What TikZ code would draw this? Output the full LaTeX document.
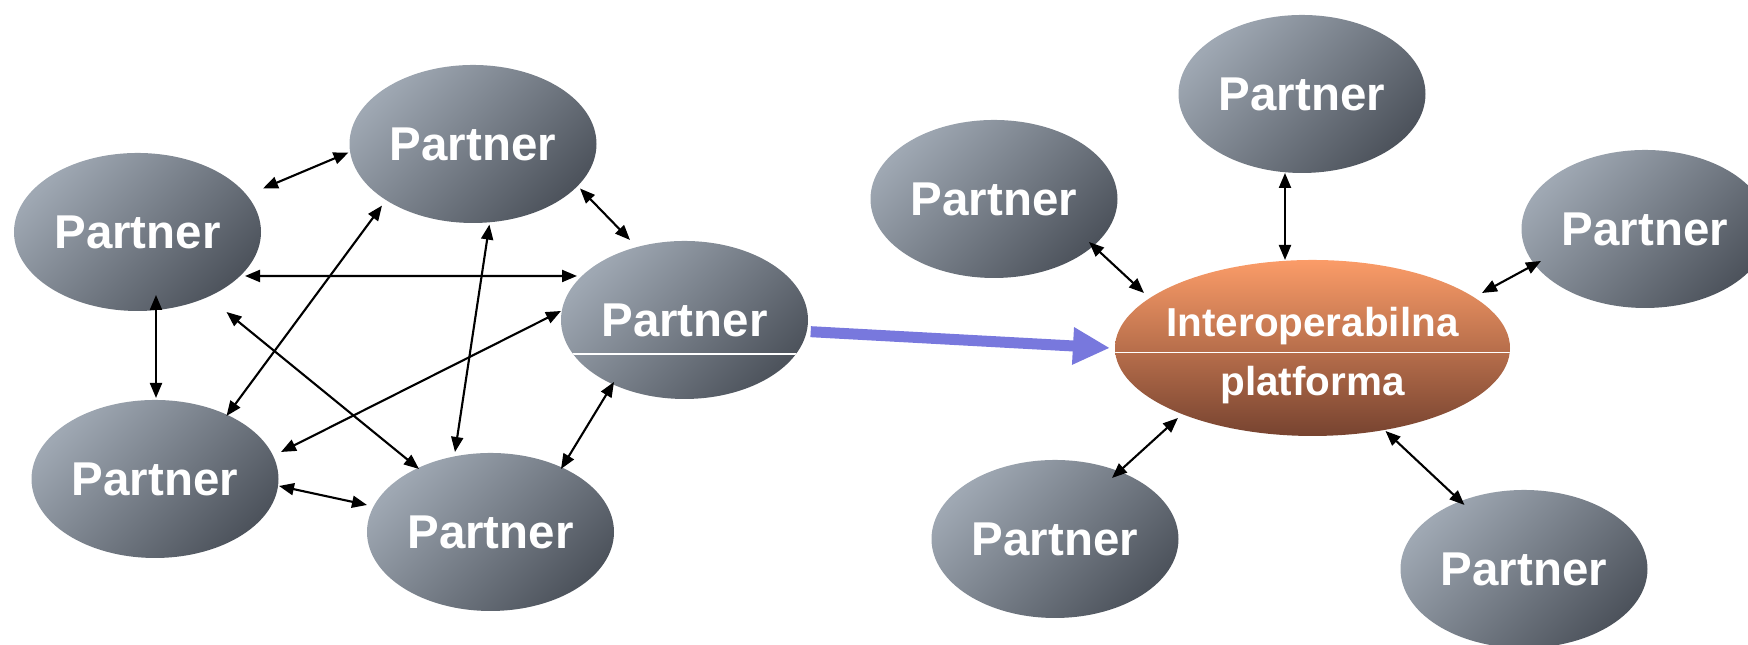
\documentclass[tikz,border=0pt]{standalone}
\usepackage{fontspec}
\setmainfont{Liberation Sans}
\usepackage{tikz}
\usetikzlibrary{shapes.geometric,arrows.meta,positioning}

\definecolor{partnerlight}{HTML}{9FA8B3}
\definecolor{partnerdark}{HTML}{4D535C}
\definecolor{platformtop}{HTML}{FB9C68}
\definecolor{platformbottom}{HTML}{774330}
\definecolor{flowblue}{HTML}{7878DD}

\tikzset{divider/.style={path picture={\draw[-,white,line width=0.5pt]
  ([yshift=#1]path picture bounding box.west) -- ([yshift=#1]path picture bounding box.east);}}}

\begin{document}
\begin{tikzpicture}[<->,>={Triangle[length=0.15cm,width=0.12cm]},semithick]

   \tikzstyle{partner}=[ellipse,draw=none,top color=partnerlight,bottom color=partnerdark,shading angle=45,text=white,minimum width=2.47cm,minimum height=1.58cm,inner sep=0pt,font=\fontsize{13.5}{15}\selectfont\bfseries]
   \tikzstyle{hub}=[ellipse,draw=none,top color=platformtop,bottom color=platformbottom,text=white,minimum width=3.95cm,minimum height=1.76cm,inner xsep=-0.1cm,inner ysep=0pt,align=center,font=\fontsize{11.5}{16.8}\selectfont\bfseries]

   % fix the page size
   \useasboundingbox (0,0) rectangle (17.48,6.45);
   \clip (0,0) rectangle (17.48,6.45);

   % left: every partner talks to every other one
   \node[partner] (p1) at (1.375,4.13) {Partner};
   \node[partner] (p2) at (4.73,5.01) {Partner};
   \node[partner,divider=-0.34cm] (p3) at (6.845,3.25) {Partner};
   \node[partner] (p4) at (1.55,1.66) {Partner};
   \node[partner] (p5) at (4.905,1.13) {Partner};

   \draw [<->] ([shift={(1.255,0.435)}]p1.center) -- ([shift={(-1.245,-0.085)}]p2.center);
   \draw [<->] ([shift={(1.07,-0.445)}]p2.center) -- ([shift={(-0.545,0.80)}]p3.center);
   \draw [<->] ([shift={(1.075,-0.44)}]p1.center) -- ([shift={(-1.075,0.44)}]p3.center);
   \draw [<->] ([shift={(0.185,-0.63)}]p1.center) -- ([shift={(0.01,0.81)}]p4.center);
   \draw [<->] ([shift={(0.89,-0.80)}]p1.center) -- ([shift={(-0.715,0.63)}]p5.center);
   \draw [<->] ([shift={(-0.91,-0.616)}]p2.center) -- ([shift={(0.715,0.63)}]p4.center);
   \draw [<->] ([shift={(0.164,-0.806)}]p2.center) -- ([shift={(-0.355,0.80)}]p5.center);
   \draw [<->] ([shift={(-1.235,0.09)}]p3.center) -- ([shift={(1.26,0.27)}]p4.center);
   \draw [<->] ([shift={(-0.705,-0.62)}]p3.center) -- ([shift={(0.705,0.63)}]p5.center);
   \draw [<->] ([shift={(1.24,-0.07)}]p4.center) -- ([shift={(-1.235,0.27)}]p5.center);

   % right: all partners through the platform
   \node[hub,divider=-0.045cm] (platform) at (13.125,2.97) {\rule{0pt}{12.6pt}Interoperabilna\\platforma};
   \node[partner] (q1) at (13.02,5.51) {Partner};
   \node[partner] (q2) at (9.94,4.46) {Partner};
   \node[partner] (q3) at (16.45,4.16) {Partner};
   \node[partner] (q4) at (10.55,1.06) {Partner};
   \node[partner] (q5) at (15.24,0.76) {Partner};

   \draw [<->] ([shift={(-0.17,-0.79)}]q1.center) -- ([shift={(-0.275,0.88)}]platform.center);
   \draw [<->] ([shift={(0.95,-0.43)}]q2.center) -- ([shift={(-1.685,0.55)}]platform.center);
   \draw [<->] ([shift={(-1.04,-0.32)}]q3.center) -- ([shift={(1.695,0.55)}]platform.center);
   \draw [<->] ([shift={(0.57,0.61)}]q4.center) -- ([shift={(-1.345,-0.70)}]platform.center);
   \draw [<->] ([shift={(-0.595,0.64)}]q5.center) -- ([shift={(0.73,-0.83)}]platform.center);

   % from the mesh to the platform
   \draw [-{Triangle[length=0.37cm,width=0.35cm]},line width=0.11cm,flowblue]
     ([shift={(1.262,-0.117)}]p3.center) -- ([xshift=-0.04cm]platform.west);

\end{tikzpicture}
\end{document}
